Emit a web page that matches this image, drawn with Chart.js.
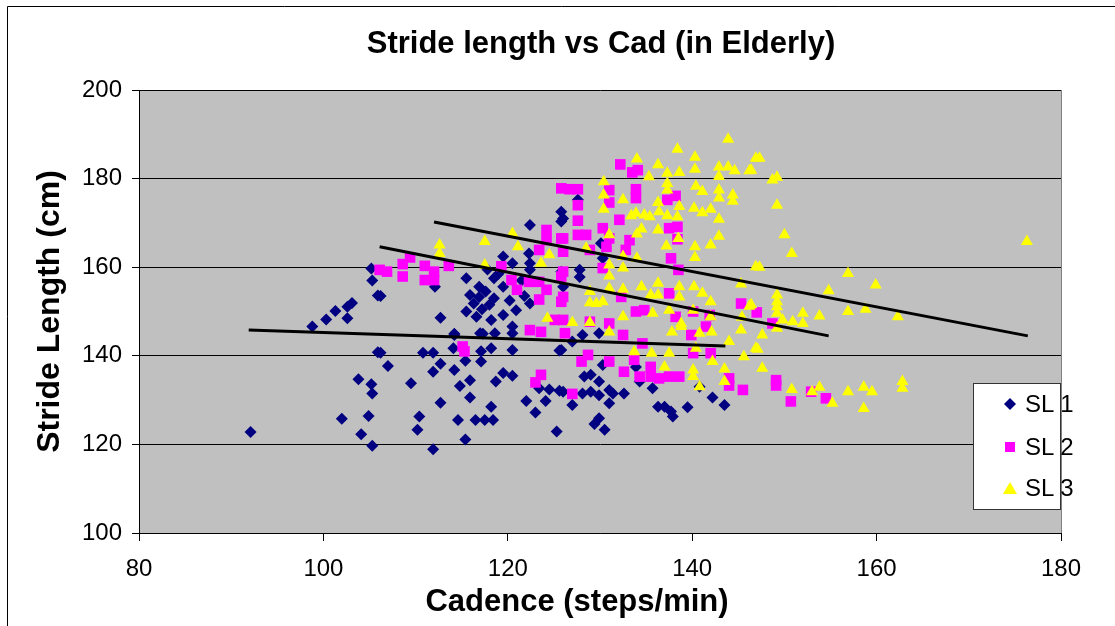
<!DOCTYPE html>
<html>
<head>
<meta charset="utf-8">
<title>Stride length vs Cad (in Elderly)</title>
<script src="https://cdn.jsdelivr.net/npm/chart.js@4.4.1/dist/chart.umd.min.js"></script>
<style>
  body { margin: 0; background: #fff; }
  #wrap { position: relative; width: 1115px; height: 626px; }
  #legend {
    position: absolute; left: 973px; top: 383px; width: 88px; height: 127px;
    box-sizing: border-box; background: #fff; border: 1px solid #333;
    font-family: "Liberation Sans", Arial, sans-serif; font-size: 24px; color: #000;
  }
  #legend .item { position: absolute; left: 0; height: 30px; line-height: 30px; }
  #legend svg { position: absolute; left: 28px; top: 8px; }
  #legend span { position: absolute; left: 51px; white-space: nowrap; }
</style>
</head>
<body>
<div id="wrap">
  <canvas id="myChart" width="1115" height="626"></canvas>
  <div id="legend"></div>
</div>
<script>
// cadence (steps/min), stride length (cm)
const sl1 = [
  [92.1,122.8],[98.8,146.6],[100.3,148.2],[101.3,150.1],[102.6,148.5],[102.6,151.1],[103.1,151.9],
  [105.2,159.7],[105.3,157.0],[105.9,153.6],[105.9,140.8],[103.8,134.7],[105.2,133.6],[105.3,131.5],
  [102.0,125.8],[104.9,126.4],[104.1,122.3],[105.3,119.7],[106.2,140.7],[107.0,137.7],[109.5,133.8],
  [110.8,140.7],[111.9,140.7],[112.7,138.2],[111.9,136.4],[114.2,136.8],[114.1,141.7],[114.2,144.7],
  [115.4,138.9],[115.9,134.5],[114.8,133.2],[115.9,130.6],[112.7,129.4],[110.4,126.3],[110.2,123.3],
  [111.9,118.9],[114.6,125.5],[115.4,121.1],[116.5,125.5],[117.5,125.5],[118.4,125.5],[118.2,128.5],
  [117.1,138.7],[117.1,141.0],[118.2,141.7],[118.7,134.2],[119.5,136.1],[120.5,135.5],[120.5,141.3],
  [122.0,129.8],[123.0,127.2],[124.1,129.8],[123.4,132.7],[124.5,132.4],[125.6,132.1],[125.3,122.9],
  [125.6,141.2],[117.0,145.1],[118.6,145.1],[120.5,145.1],[106.2,153.5],[112.1,155.6],[112.7,148.6],
  [115.5,157.5],[115.5,150.0],[116.6,148.8],[115.9,153.7],[116.9,155.6],[116.9,153.3],[117.6,154.5],
  [118.0,151.5],[117.2,150.5],[118.5,153.0],[116.3,151.8],[119.5,162.4],[119.5,155.6],[120.5,160.9],
  [120.9,150.3],[122.4,169.5],[122.3,163.1],[122.4,160.9],[122.4,159.4],[122.4,151.8],[125.8,172.5],
  [125.8,170.3],[125.8,159.0],[119.5,149.2],[118.2,148.1],[120.5,146.6],[114.2,145.0],[117.3,145.0],
  [126.0,171.0],[127.6,175.2],[127.8,159.4],[127.8,157.8],[130.1,165.4],[126.0,155.6],[130.3,162.0],
  [128.1,144.7],[129.9,145.1],[127.0,143.2],[125.8,141.3],[130.3,137.9],[128.3,135.3],[129.0,135.7],
  [129.9,134.2],[131.0,132.3],[126.0,131.9],[128.1,131.5],[129.0,131.9],[129.9,131.1],[131.4,131.5],
  [132.6,131.5],[127.0,128.9],[131.0,129.3],[134.3,134.2],[135.7,132.7],[136.3,128.5],[137.0,128.5],
  [137.7,127.4],[137.9,126.3],[139.5,128.4],[142.2,130.6],[143.5,128.9],[129.9,125.9],[129.4,124.6],
  [130.5,123.3],[140.8,133.0],[133.9,137.5],[118.5,157.5],[117.8,159.5],[121.5,157.0],[119.0,158.5],
  [120.2,152.5],[121.8,153.5]
];
const sl2 = [
  [106.1,159.4],[106.9,159.0],[108.6,160.7],[108.6,157.9],[109.4,162.2],[111.0,160.3],[111.0,157.1],
  [112.0,159.0],[112.0,157.1],[113.6,160.3],[119.3,160.2],[120.4,157.1],[121.0,154.9],[122.3,156.7],
  [123.4,156.7],[123.4,152.7],[124.2,154.9],[124.2,168.4],[124.2,166.1],[123.4,163.9],[125.8,166.5],
  [125.8,177.8],[125.8,157.9],[125.8,152.2],[125.1,148.1],[122.4,145.8],[123.6,145.4],[115.1,142.1],
  [115.3,141.0],[123.6,135.7],[123.0,134.0],[132.2,183.2],[133.5,181.4],[134.1,181.9],[126.7,177.6],
  [127.6,177.6],[127.6,174.0],[131.0,177.4],[131.0,174.6],[133.9,177.6],[133.9,175.6],[138.2,176.1],
  [137.3,175.2],[127.6,170.5],[127.6,167.3],[128.5,167.3],[126.0,166.5],[130.3,168.8],[132.1,170.7],
  [133.2,166.1],[130.7,164.6],[131.0,166.5],[132.8,163.9],[137.5,168.8],[138.4,169.1],[138.4,166.3],
  [137.7,162.0],[138.5,159.4],[126.0,163.5],[126.0,159.0],[126.0,153.3],[130.3,159.8],[128.9,163.9],
  [137.5,154.1],[134.8,150.3],[133.9,150.0],[132.3,153.3],[138.2,148.8],[140.1,150.0],[145.3,151.8],
  [128.9,147.7],[131.0,147.3],[126.0,148.1],[141.9,149.2],[128.7,140.2],[128.0,138.7],[131.0,138.7],
  [132.5,144.7],[132.6,136.4],[133.7,139.1],[134.6,142.8],[134.3,135.3],[135.5,137.5],[135.5,135.3],
  [136.4,134.9],[137.5,135.3],[138.6,135.3],[139.9,144.7],[140.1,140.6],[142.0,140.6],[144.0,134.9],
  [144.0,133.3],[145.5,132.3],[127.0,131.4],[126.2,145.1],[141.5,146.6],[147.0,149.8],[149.1,134.5],
  [149.1,133.3],[150.7,129.7],[152.9,131.9],[154.5,130.4],[148.7,147.3]
];
const sl3 = [
  [143.9,188.9],[138.4,186.6],[134.0,184.4],[140.3,184.8],[136.3,183.1],[140.3,182.1],[142.9,182.6],
  [142.9,180.5],[143.9,182.6],[144.6,181.8],[146.2,181.8],[146.9,184.6],[137.3,181.2],[138.6,181.4],
  [135.3,180.4],[130.4,179.3],[137.3,178.9],[137.3,177.4],[140.4,178.3],[141.1,177.1],[142.9,177.4],
  [142.9,175.6],[144.4,176.3],[144.4,174.9],[130.4,176.3],[130.4,173.1],[132.5,175.2],[136.3,174.6],
  [138.6,173.7],[140.2,173.3],[141.1,172.3],[142.0,173.1],[142.9,170.8],[133.4,171.6],[133.9,172.2],
  [134.8,171.8],[135.4,171.4],[136.4,172.5],[137.3,171.6],[138.4,171.4],[134.5,168.6],[136.3,168.4],
  [131.0,167.3],[134.0,167.5],[138.5,166.5],[142.9,167.0],[142.0,165.0],[137.2,164.8],[140.3,164.6],
  [140.3,162.2],[134.0,162.0],[131.0,160.5],[128.5,164.3],[132.5,162.4],[132.5,159.8],[131.0,158.0],
  [146.9,160.1],[145.3,156.2],[136.3,156.4],[134.5,155.6],[138.6,155.6],[140.2,155.6],[132.5,155.0],
  [131.0,155.2],[128.9,154.5],[141.1,154.1],[136.3,153.7],[135.5,153.7],[138.6,153.3],[142.0,152.2],
  [146.2,151.2],[128.9,152.0],[129.6,151.8],[130.3,152.2],[132.5,148.8],[135.7,149.6],[137.5,150.3],
  [140.1,150.3],[142.0,148.8],[145.4,148.7],[127.0,147.5],[128.9,147.5],[138.8,147.3],[131.0,145.4],
  [133.7,140.9],[135.6,140.6],[137.5,140.6],[137.8,145.4],[138.8,146.6],[140.8,145.1],[142.1,145.4],
  [140.4,141.7],[137.0,137.5],[140.1,136.8],[140.1,135.3],[140.8,133.0],[142.2,138.7],[143.5,137.0],
  [143.5,134.2],[144.0,143.2],[145.6,139.8],[146.9,141.7],[145.3,145.8],[147.3,184.6],[146.4,181.9],
  [148.7,179.7],[149.2,180.3],[149.2,174.0],[150.0,167.3],[150.8,163.1],[147.3,160.0],[156.9,158.6],
  [159.9,156.0],[154.8,154.7],[149.2,153.7],[149.2,152.2],[149.2,151.1],[149.2,149.6],[146.4,151.5],
  [152.0,149.6],[153.8,149.0],[156.9,150.0],[158.8,150.5],[162.3,148.8],[149.8,148.1],[150.9,147.7],
  [152.0,147.3],[149.2,146.2],[147.6,144.7],[147.1,141.5],[147.6,137.2],[176.3,165.8],[150.8,132.4],
  [153.0,131.9],[153.8,132.9],[155.2,129.3],[156.9,131.9],[158.6,132.9],[159.5,131.9],[158.6,128.1],
  [162.8,134.2],[162.8,132.7],[112.6,165.0],[112.6,163.1],[117.5,165.8],[117.5,160.5],[120.5,167.6],
  [121.1,164.6],[123.6,160.9],[124.5,162.8],[124.3,148.5]
];

// linear trend lines, end points
const trend1 = [[91.9,145.8],[143.6,142.2]];
const trend2 = [[106.1,164.6],[154.8,144.5]];
const trend3 = [[112.0,170.2],[176.4,144.5]];

const seriesNames = ["SL 1", "SL 2", "SL 3"];
const seriesColors = ["#000080", "#FF00FF", "#FFFF00"];
const xTicks = [80, 100, 120, 140, 160, 180];
const yTicks = [100, 120, 140, 160, 180, 200];
const chartTitle = "Stride length vs Cad (in Elderly)";
const xTitle = "Cadence (steps/min)";
const yTitle = "Stride Length (cm)";

const FONT = "'Liberation Sans', Arial, sans-serif";

function toPts(arr) {
  return arr.map(p => ({ x: p[0], y: p[1] }));
}

const plotBg = {
  id: "plotBg",
  beforeDraw(chart) {
    const { ctx, chartArea: a } = chart;
    ctx.save();
    ctx.fillStyle = "#C0C0C0";
    ctx.fillRect(a.left, a.top, a.right - a.left, a.bottom - a.top);
    // outer chart frame
    ctx.strokeStyle = "#000";
    ctx.lineWidth = 1;
    ctx.beginPath();
    ctx.moveTo(7.5, 626);
    ctx.lineTo(7.5, 6.5);
    ctx.lineTo(1115, 6.5);
    ctx.stroke();
    ctx.restore();
  },
  afterDatasetsDraw(chart) {
    const { ctx, chartArea: a } = chart;
    ctx.save();
    ctx.strokeStyle = "#808080";
    ctx.lineWidth = 1;
    ctx.beginPath();
    ctx.moveTo(Math.round(a.right) + 0.5, a.top);
    ctx.lineTo(Math.round(a.right) + 0.5, a.bottom);
    ctx.stroke();
    ctx.restore();
  },
  afterDraw(chart) {
    // titles placed where the original has them (not centred on the plot)
    const ctx = chart.ctx;
    ctx.save();
    ctx.fillStyle = "#000";
    ctx.textAlign = "center";
    ctx.textBaseline = "middle";
    ctx.font = "bold 31px " + FONT;
    ctx.fillText(chartTitle, 601, 44);
    ctx.font = "bold 31px " + FONT;
    ctx.fillText(xTitle, 577, 602);
    ctx.restore();
  }
};

function scatterSet(i, data, style, radius, order) {
  return {
    label: seriesNames[i],
    data: toPts(data),
    pointStyle: style,
    pointRadius: radius,
    pointHoverRadius: radius,
    backgroundColor: seriesColors[i],
    borderColor: seriesColors[i],
    borderWidth: 0,
    order: order
  };
}

function trendSet(data) {
  return {
    label: "trend",
    data: toPts(data),
    showLine: true,
    borderColor: "#000",
    borderWidth: 3,
    pointRadius: 0,
    order: 0
  };
}

function drawChart() {
  const ctx = document.getElementById("myChart");
  new Chart(ctx, {
    type: "scatter",
    data: {
      datasets: [
        trendSet(trend1), trendSet(trend2), trendSet(trend3),
        scatterSet(2, sl3, "triangle", 7, 1),
        scatterSet(1, sl2, "rect", 7.5, 2),
        scatterSet(0, sl1, "rectRot", 6, 3)
      ]
    },
    options: {
      responsive: false,
      animation: false,
      layout: { padding: { left: 31, right: 54, top: 90, bottom: 6 } },
      plugins: {
        legend: { display: false },
        tooltip: { enabled: false },
        title: { display: false }
      },
      scales: {
        x: {
          type: "linear", min: 80, max: 180,
          afterFit: s => { s.height = 87; },
          afterBuildTicks: s => { s.ticks = xTicks.map(v => ({ value: v })); },
          ticks: { color: "#000", padding: 14, font: { family: FONT, size: 24 } },
          grid: { drawOnChartArea: false, drawTicks: true, tickLength: 8, color: "#000" },
          border: { color: "#000", width: 1 }
        },
        y: {
          type: "linear", min: 100, max: 200,
          afterFit: s => { s.width = 108; },
          afterBuildTicks: s => { s.ticks = yTicks.map(v => ({ value: v })); },
          ticks: { color: "#000", padding: 10, font: { family: FONT, size: 24 } },
          grid: { color: "#000", tickLength: 7, lineWidth: 1 },
          border: { color: "#000", width: 1 },
          title: {
            display: true, text: yTitle, color: "#000",
            font: { family: FONT, size: 32, weight: "bold" }, padding: 0
          }
        }
      }
    },
    plugins: [plotBg]
  });
}

function buildLegend() {
  const box = document.getElementById("legend");
  const shapes = [
    '<svg width="16" height="14"><polygon points="8,1 14,7 8,13 2,7" fill="#000080"/></svg>',
    '<svg width="16" height="14"><rect x="3" y="2" width="10" height="10" fill="#FF00FF"/></svg>',
    '<svg width="16" height="14"><polygon points="8,1 15,13 1,13" fill="#FFFF00"/></svg>'
  ];
  const tops = [5, 48, 89];
  seriesNames.forEach((name, i) => {
    const d = document.createElement("div");
    d.className = "item";
    d.style.top = tops[i] + "px";
    d.innerHTML = shapes[i] + "<span>" + name + "</span>";
    box.appendChild(d);
  });
}

window.onload = () => {
  drawChart();
  buildLegend();
};
</script>
</body>
</html>
